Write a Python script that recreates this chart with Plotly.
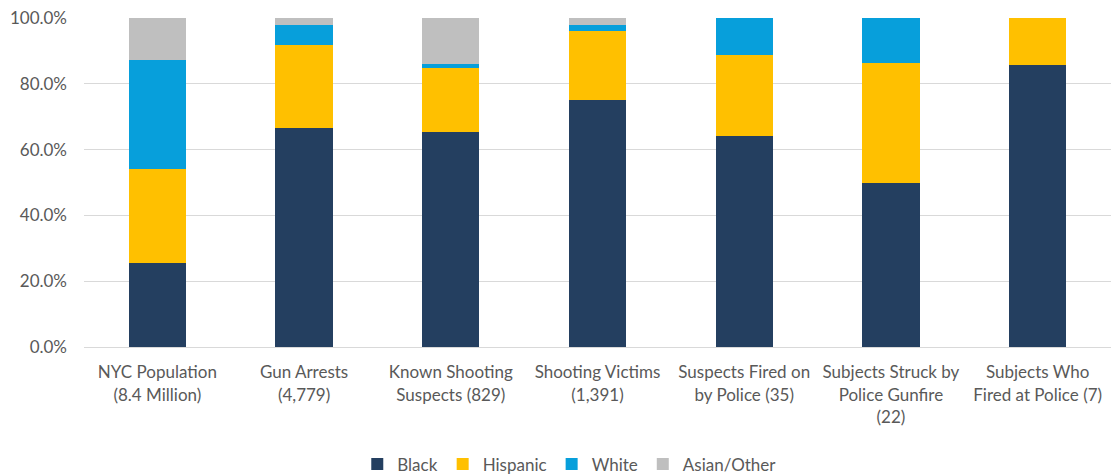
import plotly.graph_objects as go

categories = [
    "NYC Population<br>(8.4 Million)",
    "Gun Arrests<br>(4,779)",
    "Known Shooting<br>Suspects (829)",
    "Shooting Victims<br>(1,391)",
    "Suspects Fired on<br>by Police (35)",
    "Subjects Struck by<br>Police Gunfire<br>(22)",
    "Subjects Who<br>Fired at Police (7)",
]
black = [25.4, 66.5, 65.4, 75.1, 64.0, 50.0, 85.7]
hispanic = [28.6, 25.4, 19.4, 21.0, 24.8, 36.4, 14.3]
white = [33.1, 5.9, 1.3, 1.8, 11.2, 13.6, 0.0]
asian_other = [12.9, 2.2, 13.9, 2.1, 0.0, 0.0, 0.0]

series = [
    ("Black", black, "#243F60"),
    ("Hispanic", hispanic, "#FFC000"),
    ("White", white, "#079FDB"),
    ("Asian/Other", asian_other, "#BFBFBF"),
]

font_family = "Lato, Open Sans, Arial, sans-serif"

fig = go.Figure()
for name, vals, color in series:
    fig.add_trace(go.Bar(
        x=categories, y=[v / 100 for v in vals], name=name,
        marker=dict(color=color, line=dict(width=0)),
    ))

fig.update_layout(
    barmode="stack",
    bargap=0.61,
    width=1111, height=475,
    margin=dict(l=84, r=0, t=18, b=128, autoexpand=False),
    paper_bgcolor="white", plot_bgcolor="white",
    font=dict(family=font_family, size=17, color="#595959"),
    legend=dict(orientation="h", x=0.473, xanchor="center", y=-0.357, yanchor="middle",
                font=dict(size=17, color="#595959"), traceorder="normal",
                itemwidth=30, tracegroupgap=0),
    showlegend=True,
)
fig.update_yaxes(range=[0, 1], tickformat=".1%", dtick=0.2, showgrid=True,
                 gridcolor="#D9D9D9", gridwidth=1, zeroline=False,
                 ticklabelstandoff=16, automargin=False, fixedrange=True)
fig.update_xaxes(showline=True, linecolor="#D9D9D9", tickangle=0,
                 ticklabelstandoff=10, automargin=False, fixedrange=True)

fig.write_html("out.html",
               config={"displayModeBar": False},
               post_script="document.body.style.margin='0px';document.body.style.overflow='hidden';")
